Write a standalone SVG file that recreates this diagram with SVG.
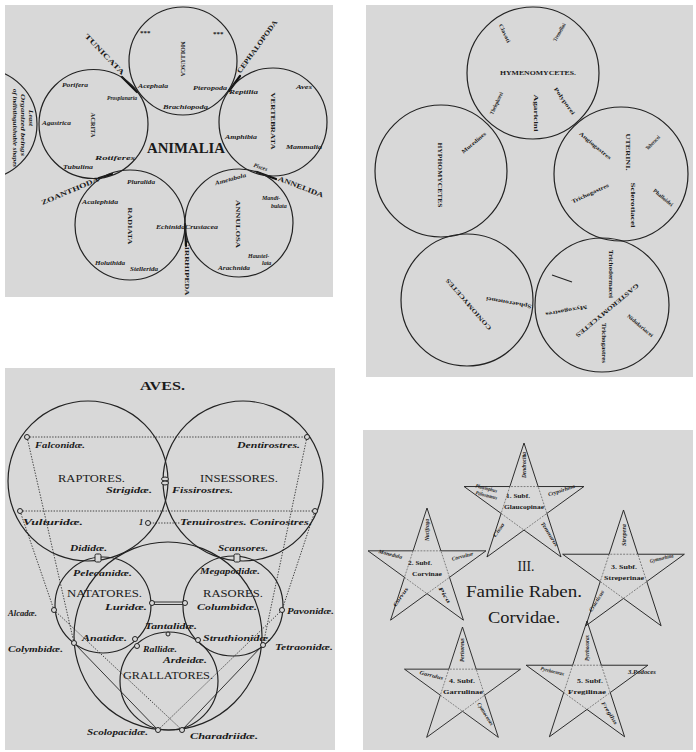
<svg xmlns="http://www.w3.org/2000/svg" xmlns:xlink="http://www.w3.org/1999/xlink" width="696" height="752" viewBox="0 0 696 752">
<style>
.pan{fill:#d8d8d8}
.c{fill:none;stroke:#222;stroke-width:1.2}
.cap{font-family:"Liberation Serif","DejaVu Serif",serif;font-weight:bold;fill:#1a1a1a}
.it{font-family:"Liberation Serif","DejaVu Serif",serif;font-style:italic;font-weight:bold;fill:#1a1a1a}
.rm{font-family:"Liberation Serif","DejaVu Serif",serif;fill:#1a1a1a}
.s5{font-size:5.5px}.s6{font-size:6px}.s7{font-size:7px}.s8{font-size:8.5px}
.dot{fill:none;stroke:#333;stroke-width:0.9;stroke-dasharray:1.4 1.4}
.sol{fill:none;stroke:#222;stroke-width:0.9}
.nd{fill:#d8d8d8;stroke:#222;stroke-width:1}
.mark{stroke:#111;stroke-width:2.2;stroke-linecap:round}
.star{fill:none;stroke:#222;stroke-width:1.5;stroke-linejoin:miter}
.pent{fill:none;stroke:#555;stroke-width:1.1;stroke-dasharray:3 2}
</style>
<defs>
<clipPath id="clip1"><rect x="5" y="5" width="328" height="292"/></clipPath>
<path id="starOut" d="M0,-100 L22.45,-30.9 L95.11,-30.9 L36.33,11.8 L58.78,80.9 L0,38.2 L-58.78,80.9 L-36.33,11.8 L-95.11,-30.9 L-22.45,-30.9 Z"/>
<path id="starIn" d="M22.45,-30.9 L-22.45,-30.9 L-36.33,11.8 L0,38.2 L36.33,11.8 Z"/>
</defs>
<rect width="696" height="752" fill="#ffffff"/>

<!-- ============ PANEL 1 : ANIMALIA ============ -->
<g id="panel-animalia">
<rect class="pan" x="5" y="5" width="328" height="292"/>
<g id="connectors-animalia">
<line class="mark" x1="122" y1="77" x2="137" y2="92"/>
<line class="mark" x1="229" y1="91" x2="240" y2="76"/>
<line class="mark" x1="99" y1="178" x2="112" y2="174"/>
<line class="mark" x1="257" y1="172" x2="276" y2="179"/>
<line class="mark" x1="185" y1="224" x2="186" y2="246"/>
</g>
<g id="n-partial"><circle class="c" cx="-18" cy="124" r="55" clip-path="url(#clip1)"/>
<text class="it s5" transform="translate(29,118) rotate(90)" text-anchor="middle" textLength="16" lengthAdjust="spacingAndGlyphs">Least</text>
<text class="it s5" transform="translate(21,125) rotate(90)" text-anchor="middle" textLength="62" lengthAdjust="spacingAndGlyphs">Organized beings</text>
<text class="it s5" transform="translate(13,128) rotate(90)" text-anchor="middle" textLength="78" lengthAdjust="spacingAndGlyphs">of indistinguishable shapes</text>
</g>
<g id="n-mollusca"><circle class="c" cx="183" cy="61" r="54"/>
<text class="cap s7" x="140" y="35">***</text>
<text class="cap s7" x="213" y="36">***</text>
<text class="cap s6" transform="translate(181,59) rotate(90)" text-anchor="middle" textLength="35" lengthAdjust="spacingAndGlyphs">MOLLUSCA</text>
<text class="it s6" x="138" y="88" textLength="30" lengthAdjust="spacingAndGlyphs">Acephala</text>
<text class="it s6" x="193" y="90" textLength="34" lengthAdjust="spacingAndGlyphs">Pteropoda</text>
<text class="it s6" x="163" y="109" textLength="45" lengthAdjust="spacingAndGlyphs">Brachiopoda</text>
</g>
<g id="n-acrita"><circle class="c" cx="93.5" cy="124" r="54.5"/>
<text class="cap s6" transform="translate(91,125) rotate(90)" text-anchor="middle" textLength="25" lengthAdjust="spacingAndGlyphs">ACRITA</text>
<text class="it s6" x="62" y="87" textLength="26" lengthAdjust="spacingAndGlyphs">Porifera</text>
<text class="it s6" x="107" y="100" textLength="30" lengthAdjust="spacingAndGlyphs">Prosplanaria</text>
<text class="it s6" x="42" y="125" textLength="29" lengthAdjust="spacingAndGlyphs">Agastrica</text>
<text class="it s6" x="95" y="160" textLength="40" lengthAdjust="spacingAndGlyphs">Rotiferes</text>
<text class="it s6" x="63" y="169" textLength="30" lengthAdjust="spacingAndGlyphs">Tubulina</text>
</g>
<g id="n-vertebrata"><circle class="c" cx="273" cy="122" r="54"/>
<text class="cap s6" transform="translate(271,121) rotate(90)" text-anchor="middle" textLength="57" lengthAdjust="spacingAndGlyphs">VERTEBRATA</text>
<text class="it s6" x="229" y="94" textLength="29" lengthAdjust="spacingAndGlyphs">Reptilia</text>
<text class="it s6" x="296" y="89" textLength="16" lengthAdjust="spacingAndGlyphs">Aves</text>
<text class="it s6" x="225" y="139" textLength="32" lengthAdjust="spacingAndGlyphs">Amphibia</text>
<text class="it s6" x="286" y="149" textLength="36" lengthAdjust="spacingAndGlyphs">Mammalia</text>
<text class="it s6" transform="translate(260,169) rotate(18)" text-anchor="middle" textLength="14" lengthAdjust="spacingAndGlyphs">Pisces</text>
</g>
<g id="n-radiata"><circle class="c" cx="130" cy="225" r="55"/>
<text class="cap s6" transform="translate(128,226) rotate(90)" text-anchor="middle" textLength="37" lengthAdjust="spacingAndGlyphs">RADIATA</text>
<text class="it s6" x="127" y="184" textLength="28" lengthAdjust="spacingAndGlyphs">Pluralida</text>
<text class="it s6" x="82" y="204" textLength="36" lengthAdjust="spacingAndGlyphs">Acalephida</text>
<text class="it s6" x="156" y="229" textLength="29" lengthAdjust="spacingAndGlyphs">Echinida</text>
<text class="it s6" x="95" y="265" textLength="30" lengthAdjust="spacingAndGlyphs">Holuthida</text>
<text class="it s6" x="130" y="271" textLength="28" lengthAdjust="spacingAndGlyphs">Stellerida</text>
</g>
<g id="n-annulosa"><circle class="c" cx="239" cy="223" r="54"/>
<text class="cap s6" transform="translate(236,224) rotate(90)" text-anchor="middle" textLength="48" lengthAdjust="spacingAndGlyphs">ANNULOSA</text>
<text class="it s6" x="185" y="229" textLength="33" lengthAdjust="spacingAndGlyphs">Crustacea</text>
<text class="it s6" transform="translate(231,181) rotate(-15)" text-anchor="middle" textLength="32" lengthAdjust="spacingAndGlyphs">Ametabola</text>
<text class="it s6" x="262" y="200">Mandi-</text>
<text class="it s6" x="271" y="208">bulata</text>
<text class="it s6" x="248" y="258">Haustel-</text>
<text class="it s6" x="262" y="265">lata</text>
<text class="it s6" x="218" y="270" textLength="32" lengthAdjust="spacingAndGlyphs">Arachnida</text>
</g>
<g id="n-groups">
<text class="cap s7" transform="translate(103,56) rotate(46)" text-anchor="middle" textLength="54" lengthAdjust="spacingAndGlyphs">TUNICATA</text>
<text class="cap s7" transform="translate(259,48) rotate(-54)" text-anchor="middle" textLength="64" lengthAdjust="spacingAndGlyphs">CEPHALOPODA</text>
<text class="cap s7" transform="translate(300,189) rotate(21)" text-anchor="middle" textLength="48" lengthAdjust="spacingAndGlyphs">ANNELIDA</text>
<text class="cap s7" transform="translate(71,193) rotate(-23)" text-anchor="middle" textLength="62" lengthAdjust="spacingAndGlyphs">ZOANTHODA</text>
<text class="cap s7" transform="translate(185,268) rotate(90)" text-anchor="middle" textLength="55" lengthAdjust="spacingAndGlyphs">CIRRHIPEDA</text>
<text class="cap" font-size="14" x="147" y="153" textLength="78" lengthAdjust="spacingAndGlyphs">ANIMALIA</text>
</g>
</g>

<!-- ============ PANEL 2 : FUNGI ============ -->
<g id="panel-fungi">
<rect class="pan" x="366" y="5" width="327" height="372"/>
<g id="n-hymenomycetes"><circle class="c" cx="533" cy="73" r="66"/>
<text class="cap s6" x="538" y="75" text-anchor="middle" textLength="76" lengthAdjust="spacingAndGlyphs">HYMENOMYCETES.</text>
<text class="cap s5" transform="translate(503,34) rotate(65)" text-anchor="middle" textLength="20" lengthAdjust="spacingAndGlyphs">Clavati</text>
<text class="cap s5" transform="translate(561,33) rotate(-60)" text-anchor="middle" textLength="20" lengthAdjust="spacingAndGlyphs">Tremellini</text>
<text class="cap s5" transform="translate(498,104) rotate(-65)" text-anchor="middle" textLength="24" lengthAdjust="spacingAndGlyphs">Thelephorei</text>
<text class="cap s5" transform="translate(534,113) rotate(90)" text-anchor="middle" textLength="37" lengthAdjust="spacingAndGlyphs">Agaricini</text>
<text class="cap s5" transform="translate(563,102) rotate(55)" text-anchor="middle" textLength="32" lengthAdjust="spacingAndGlyphs">Polyporei</text>
</g>
<g id="n-hyphomycetes"><circle class="c" cx="441" cy="171" r="66"/>
<text class="cap s6" transform="translate(438,175) rotate(90)" text-anchor="middle" textLength="65" lengthAdjust="spacingAndGlyphs">HYPHOMYCETES</text>
<text class="cap s5" transform="translate(475,144) rotate(-40)" text-anchor="middle" textLength="30" lengthAdjust="spacingAndGlyphs">Mucedines</text>
</g>
<g id="n-uterini"><circle class="c" cx="621" cy="174" r="67"/>
<text class="cap s6" transform="translate(626,152) rotate(90)" text-anchor="middle" textLength="37" lengthAdjust="spacingAndGlyphs">UTERINI.</text>
<text class="cap s5" transform="translate(594,147) rotate(40)" text-anchor="middle" textLength="40" lengthAdjust="spacingAndGlyphs">Angiogastres</text>
<text class="cap s5" transform="translate(654,144) rotate(-45)" text-anchor="middle" textLength="18" lengthAdjust="spacingAndGlyphs">Tuberacei</text>
<text class="cap s5" transform="translate(591,195) rotate(-25)" text-anchor="middle" textLength="40" lengthAdjust="spacingAndGlyphs">Trichogastres</text>
<text class="cap s5" transform="translate(631,205) rotate(90)" text-anchor="middle" textLength="45" lengthAdjust="spacingAndGlyphs">Sclerotiacei</text>
<text class="cap s5" transform="translate(662,199) rotate(40)" text-anchor="middle" textLength="24" lengthAdjust="spacingAndGlyphs">Phalloidei</text>
</g>
<g id="n-coniomycetes"><circle class="c" cx="467" cy="300" r="66"/>
<text class="cap s6" transform="translate(470,303) rotate(229)" text-anchor="middle" textLength="66" lengthAdjust="spacingAndGlyphs">CONIOMYCETES</text>
<text class="cap s5" transform="translate(509,301) rotate(190)" text-anchor="middle" textLength="46" lengthAdjust="spacingAndGlyphs">Sphaeronemei</text>
</g>
<g id="n-gasteromycetes"><circle class="c" cx="602" cy="305" r="67"/>
<line x1="552" y1="275" x2="572" y2="282" stroke="#222" stroke-width="1.1"/>
<text class="cap s6" transform="translate(606,309) rotate(140)" text-anchor="middle" textLength="80" lengthAdjust="spacingAndGlyphs">GASTEROMYCETES</text>
<text class="cap s5" transform="translate(609,274) rotate(90)" text-anchor="middle" textLength="48" lengthAdjust="spacingAndGlyphs">Trichodermacei</text>
<text class="cap s5" transform="translate(566,309) rotate(170)" text-anchor="middle" textLength="42" lengthAdjust="spacingAndGlyphs">Myxogastres</text>
<text class="cap s5" transform="translate(602,343) rotate(90)" text-anchor="middle" textLength="40" lengthAdjust="spacingAndGlyphs">Trichogastres</text>
<text class="cap s5" transform="translate(639,327) rotate(40)" text-anchor="middle" textLength="32" lengthAdjust="spacingAndGlyphs">Nidulariacei</text>
</g>
</g>

<!-- ============ PANEL 3 : AVES ============ -->
<g id="panel-aves">
<rect class="pan" x="5" y="368" width="330" height="382"/>
<text class="cap" font-size="13" x="140" y="390" textLength="45" lengthAdjust="spacingAndGlyphs">AVES.</text>
<g id="connectors-aves">
<line class="dot" x1="27" y1="437" x2="307" y2="437"/>
<line class="dot" x1="20" y1="511" x2="315" y2="511"/>
<line class="dot" x1="150" y1="523" x2="180" y2="523"/>
<line class="dot" x1="27" y1="437" x2="74" y2="643"/>
<line class="dot" x1="20" y1="511" x2="54" y2="610"/>
<line class="dot" x1="307" y1="437" x2="263" y2="645"/>
<line class="dot" x1="315" y1="511" x2="282" y2="610"/>
<line class="dot" x1="54" y1="610" x2="182" y2="730"/>
<line class="dot" x1="282" y1="610" x2="158" y2="730"/>
<line class="sol" x1="74" y1="643" x2="158" y2="730"/>
<line class="sol" x1="263" y1="645" x2="182" y2="730"/>
<line class="sol" x1="152" y1="602" x2="185" y2="602"/>
<line class="sol" x1="152" y1="604.5" x2="185" y2="604.5"/>
</g>
<g id="n-raptores"><circle class="c" cx="88" cy="481" r="80"/>
<text class="rm" font-size="10" x="58" y="482" textLength="67" lengthAdjust="spacingAndGlyphs">RAPTORES.</text>
<text class="it s8" x="35" y="448" textLength="50" lengthAdjust="spacingAndGlyphs">Falconidæ.</text>
<text class="it s8" x="106" y="493" textLength="46" lengthAdjust="spacingAndGlyphs">Strigidæ.</text>
<text class="it s8" x="23" y="525" textLength="60" lengthAdjust="spacingAndGlyphs">Vulturidæ.</text>
</g>
<g id="n-insessores"><circle class="c" cx="243" cy="481" r="80"/>
<text class="rm" font-size="10" x="200" y="482" textLength="78" lengthAdjust="spacingAndGlyphs">INSESSORES.</text>
<text class="it s8" x="237" y="448" textLength="63" lengthAdjust="spacingAndGlyphs">Dentirostres.</text>
<text class="it s8" x="172" y="493" textLength="61" lengthAdjust="spacingAndGlyphs">Fissirostres.</text>
<text class="it s8" x="139" y="525">1</text>
<text class="it s8" x="180" y="525" textLength="132" lengthAdjust="spacingAndGlyphs">Tenuirostres. Conirostres.</text>
</g>
<g id="n-outer"><circle class="c" cx="168" cy="636" r="94"/>
<text class="it s8" x="70" y="551" textLength="37" lengthAdjust="spacingAndGlyphs">Dididæ.</text>
<text class="it s8" x="218" y="551" textLength="50" lengthAdjust="spacingAndGlyphs">Scansores.</text>
<text class="it s8" x="8" y="616" textLength="29" lengthAdjust="spacingAndGlyphs">Alcadæ.</text>
<text class="it s8" x="287" y="614" textLength="47" lengthAdjust="spacingAndGlyphs">Pavonidæ.</text>
<text class="it s8" x="8" y="652" textLength="55" lengthAdjust="spacingAndGlyphs">Colymbidæ.</text>
<text class="it s8" x="275" y="650" textLength="58" lengthAdjust="spacingAndGlyphs">Tetraonidæ.</text>
<text class="it s8" x="87" y="735" textLength="61" lengthAdjust="spacingAndGlyphs">Scolopacidæ.</text>
<text class="it s8" x="190" y="739" textLength="68" lengthAdjust="spacingAndGlyphs">Charadriidæ.</text>
</g>
<g id="n-natatores"><circle class="c" cx="103" cy="605" r="48"/>
<text class="it s8" x="73" y="576" textLength="59" lengthAdjust="spacingAndGlyphs">Pelecanidæ.</text>
<text class="rm" font-size="9.5" x="67" y="597" textLength="75" lengthAdjust="spacingAndGlyphs">NATATORES.</text>
<text class="it s8" x="105" y="610" textLength="42" lengthAdjust="spacingAndGlyphs">Luridæ.</text>
<text class="it s8" x="82" y="641" textLength="45" lengthAdjust="spacingAndGlyphs">Anatidæ.</text>
</g>
<g id="n-rasores"><circle class="c" cx="233" cy="606" r="50"/>
<text class="it s8" x="200" y="574" textLength="60" lengthAdjust="spacingAndGlyphs">Megapodidæ.</text>
<text class="rm" font-size="9.5" x="203" y="597" textLength="60" lengthAdjust="spacingAndGlyphs">RASORES.</text>
<text class="it s8" x="197" y="610" textLength="60" lengthAdjust="spacingAndGlyphs">Columbidæ.</text>
<text class="it s8" x="203" y="641" textLength="68" lengthAdjust="spacingAndGlyphs">Struthionidæ.</text>
</g>
<g id="n-grallatores"><circle class="c" cx="169" cy="681" r="49"/>
<text class="it s8" x="145" y="629" textLength="52" lengthAdjust="spacingAndGlyphs">Tantalidæ.</text>
<text class="it s8" x="143" y="652" textLength="34" lengthAdjust="spacingAndGlyphs">Rallidæ.</text>
<text class="it s8" x="163" y="663" textLength="44" lengthAdjust="spacingAndGlyphs">Ardeidæ.</text>
<text class="rm" font-size="9.5" x="123" y="679" textLength="90" lengthAdjust="spacingAndGlyphs">GRALLATORES.</text>
</g>
<g id="nodes-aves">
<circle class="nd" cx="27" cy="437" r="2.5"/>
<circle class="nd" cx="307" cy="437" r="2.5"/>
<circle class="nd" cx="20" cy="511" r="2.5"/>
<circle class="nd" cx="315" cy="511" r="2.5"/>
<ellipse class="nd" cx="165" cy="479" rx="3.5" ry="2"/>
<ellipse class="nd" cx="165" cy="483" rx="3.5" ry="2"/>
<circle class="nd" cx="148" cy="523" r="2.5"/>
<rect class="nd" x="95" y="554" width="6" height="8" rx="1.5"/>
<rect class="nd" x="234" y="554" width="6" height="8" rx="1.5"/>
<circle class="nd" cx="152" cy="603" r="2.5"/>
<circle class="nd" cx="185" cy="603" r="2.5"/>
<circle class="nd" cx="54" cy="610" r="2.5"/>
<circle class="nd" cx="282" cy="610" r="2.5"/>
<circle class="nd" cx="135" cy="639" r="2.5"/>
<circle class="nd" cx="137" cy="646" r="2.5"/>
<circle class="nd" cx="74" cy="643" r="2.5"/>
<circle class="nd" cx="198" cy="640" r="2.5"/>
<circle class="nd" cx="263" cy="645" r="2.5"/>
<circle class="nd" cx="168" cy="634" r="2"/>
<circle class="nd" cx="158" cy="730" r="2.5"/>
<circle class="nd" cx="182" cy="730" r="2.5"/>
</g>
</g>

<!-- ============ PANEL 4 : CORVIDAE ============ -->
<g id="panel-corvidae">
<rect class="pan" x="363" y="430" width="330" height="320"/>
<g id="n-star1" transform="translate(524,506) scale(0.63)">
<use href="#starIn" class="pent"/><use href="#starOut" class="star"/>
</g>
<g id="n-star2" transform="translate(427,570) scale(0.62)">
<use href="#starIn" class="pent"/><use href="#starOut" class="star"/>
</g>
<g id="n-star3" transform="translate(623.5,574) scale(0.64)">
<use href="#starIn" class="pent"/><use href="#starOut" class="star"/>
</g>
<g id="n-star4" transform="translate(462.5,688) scale(0.61)">
<use href="#starIn" class="pent"/><use href="#starOut" class="star"/>
</g>
<g id="n-star5" transform="translate(587,685) scale(0.64)">
<use href="#starIn" class="pent"/><use href="#starOut" class="star"/>
</g>
<g id="labels-star1">
<text class="cap s6" x="518" y="498" text-anchor="middle" textLength="24" lengthAdjust="spacingAndGlyphs">1. Subf.</text>
<text class="cap s6" x="524" y="509" text-anchor="middle" textLength="40" lengthAdjust="spacingAndGlyphs">Glaucopinae</text>
<text class="it s5" transform="translate(526,465) rotate(-90)" text-anchor="middle" textLength="26" lengthAdjust="spacingAndGlyphs">Dendrocitta</text>
<text class="it s5" transform="translate(486,490) rotate(14)" text-anchor="middle" textLength="22" lengthAdjust="spacingAndGlyphs">Platylophus</text>
<text class="it s5" transform="translate(486,497) rotate(14)" text-anchor="middle" textLength="22" lengthAdjust="spacingAndGlyphs">Ptilostomus</text>
<text class="it s5" transform="translate(562,492) rotate(-18)" text-anchor="middle" textLength="28" lengthAdjust="spacingAndGlyphs">Crypsirhina</text>
<text class="it s5" transform="translate(500,531) rotate(-55)" text-anchor="middle" textLength="16" lengthAdjust="spacingAndGlyphs">Cissa</text>
<text class="it s5" transform="translate(548,535) rotate(58)" text-anchor="middle" textLength="28" lengthAdjust="spacingAndGlyphs">Temnurus</text>
</g>
<g id="labels-star2">
<text class="cap s6" x="420" y="565" text-anchor="middle" textLength="24" lengthAdjust="spacingAndGlyphs">2. Subf.</text>
<text class="cap s6" x="427" y="576" text-anchor="middle" textLength="30" lengthAdjust="spacingAndGlyphs">Corvinae</text>
<text class="it s5" transform="translate(429,530) rotate(-90)" text-anchor="middle" textLength="22" lengthAdjust="spacingAndGlyphs">Nucifraga</text>
<text class="it s5" transform="translate(390,556) rotate(14)" text-anchor="middle" textLength="24" lengthAdjust="spacingAndGlyphs">Monedula</text>
<text class="it s5" transform="translate(463,558) rotate(-14)" text-anchor="middle" textLength="22" lengthAdjust="spacingAndGlyphs">Corvultur</text>
<text class="it s5" transform="translate(402,598) rotate(-55)" text-anchor="middle" textLength="22" lengthAdjust="spacingAndGlyphs">Corvus</text>
<text class="it s5" transform="translate(443,596) rotate(58)" text-anchor="middle" textLength="18" lengthAdjust="spacingAndGlyphs">Pica</text>
</g>
<g id="labels-star3">
<text class="cap s6" x="624" y="569" text-anchor="middle" textLength="26" lengthAdjust="spacingAndGlyphs">3. Subf.</text>
<text class="cap s6" x="624" y="580" text-anchor="middle" textLength="40" lengthAdjust="spacingAndGlyphs">Streperinae</text>
<text class="it s5" transform="translate(626,535) rotate(-90)" text-anchor="middle" textLength="22" lengthAdjust="spacingAndGlyphs">Strepera</text>
<text class="it s5" transform="translate(662,560) rotate(-14)" text-anchor="middle" textLength="24" lengthAdjust="spacingAndGlyphs">Gymnorhina</text>
<text class="it s5" transform="translate(598,602) rotate(-58)" text-anchor="middle" textLength="24" lengthAdjust="spacingAndGlyphs">Cracticus</text>
</g>
<g id="labels-star4">
<text class="cap s6" x="462" y="683" text-anchor="middle" textLength="26" lengthAdjust="spacingAndGlyphs">4. Subf.</text>
<text class="cap s6" x="463" y="694" text-anchor="middle" textLength="40" lengthAdjust="spacingAndGlyphs">Garrulinae</text>
<text class="it s5" transform="translate(464,650) rotate(-90)" text-anchor="middle" textLength="24" lengthAdjust="spacingAndGlyphs">Perisoreus</text>
<text class="it s5" transform="translate(431,677) rotate(14)" text-anchor="middle" textLength="24" lengthAdjust="spacingAndGlyphs">Garrulus</text>
<text class="it s5" transform="translate(484,715) rotate(58)" text-anchor="middle" textLength="26" lengthAdjust="spacingAndGlyphs">Cyanocorax</text>
</g>
<g id="labels-star5">
<text class="cap s6" x="590" y="683" text-anchor="middle" textLength="26" lengthAdjust="spacingAndGlyphs">5. Subf.</text>
<text class="cap s6" x="587" y="694" text-anchor="middle" textLength="38" lengthAdjust="spacingAndGlyphs">Fregilinae</text>
<text class="it s5" transform="translate(589,648) rotate(-90)" text-anchor="middle" textLength="26" lengthAdjust="spacingAndGlyphs">Pyrrhocorax</text>
<text class="it s5" transform="translate(552,673) rotate(14)" text-anchor="middle" textLength="24" lengthAdjust="spacingAndGlyphs">Pyrrhocorax</text>
<text class="it s5" x="628" y="674" textLength="28" lengthAdjust="spacingAndGlyphs">3.Podoces</text>
<text class="it s5" transform="translate(608,714) rotate(58)" text-anchor="middle" textLength="26" lengthAdjust="spacingAndGlyphs">Fregilus</text>
</g>
<g id="n-family">
<text class="rm" font-size="14" x="526" y="571" text-anchor="middle" textLength="17" lengthAdjust="spacingAndGlyphs">III.</text>
<text class="rm" font-size="16" x="524" y="597" text-anchor="middle" textLength="116" lengthAdjust="spacingAndGlyphs">Familie Raben.</text>
<text class="rm" font-size="16" x="524" y="623" text-anchor="middle" textLength="72" lengthAdjust="spacingAndGlyphs">Corvidae.</text>
</g>
</g>
</svg>
